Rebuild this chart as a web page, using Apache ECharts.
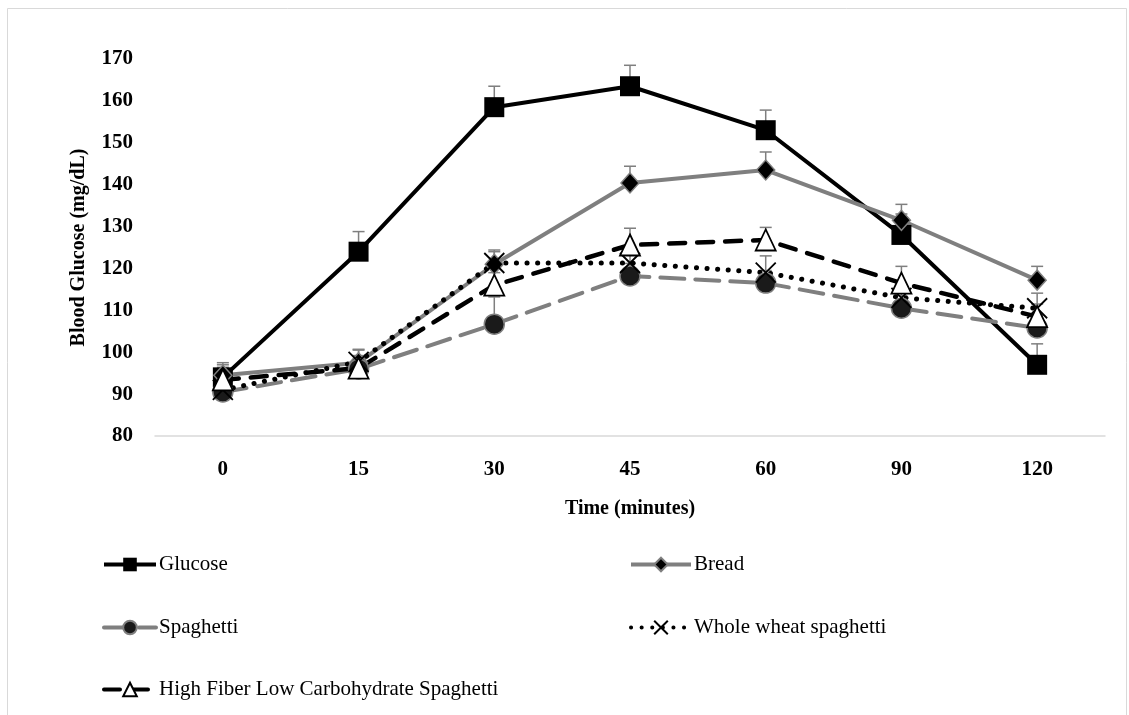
<!DOCTYPE html>
<html>
<head>
<meta charset="utf-8">
<script src="https://cdn.jsdelivr.net/npm/echarts@6/dist/echarts.min.js"></script>
<style>
  html, body { margin: 0; padding: 0; background: #fff; }
  #box { width: 1129px; height: 715px; }
</style>
</head>
<body>
<div id="box"></div>
<script>
// chart data
var times = ['0', '15', '30', '45', '60', '90', '120'];

var glucose = [94, 124, 158.5, 163.5, 153, 128, 97];
var bread = [94.5, 97.5, 121, 140.4, 143.5, 131.5, 117.2];
var spaghetti = [90.5, 96, 106.7, 118.2, 116.5, 110.5, 105.8];
var wholeWheat = [91, 97.7, 121.3, 121.3, 119, 113, 110.5];
var highFiber = [93.4, 96.2, 116, 125.6, 126.8, 116.5, 108.5];

// error (+) per point
var glucoseErr = [3, 4.8, 5, 5, 4.8, 5, 5];
var breadErr = [3, 3, 3, 4, 4.3, 3.8, 3.3];
var spaghettiErr = [2.5, 3, 6.5, 3, 3, 3, 3];
var wholeWheatErr = [2.5, 3, 3.1, 3, 4, 3, 3.6];
var highFiberErr = [3, 3, 3, 4, 3, 4, 3];

var yTicks = { min: 80, max: 170, step: 10 };

var FONT = 'Liberation Serif';
var GREY = '#7f7f7f';

var myChart = echarts.init(document.getElementById('box'));

function errData(vals, errs) {
  return vals.map(function (v, i) {
    return [i, v, v + errs[i]];
  });
}

function errSeries(vals, errs) {
  return {
    type: 'custom',
    z: 1,
    silent: true,
    data: errData(vals, errs),
    renderItem: function (params, api) {
      var p0 = api.coord([api.value(0), api.value(1)]);
      var p1 = api.coord([api.value(0), api.value(2)]);
      var half = 6;
      var st = { stroke: GREY, lineWidth: 1.5 };
      return {
        type: 'group',
        children: [
          { type: 'line', shape: { x1: p0[0], y1: p0[1], x2: p1[0], y2: p1[1] }, style: st },
          { type: 'line', shape: { x1: p1[0] - half, y1: p1[1], x2: p1[0] + half, y2: p1[1] }, style: st }
        ]
      };
    }
  };
}

// one legend block per entry, laid out like the original two columns
function legendItem(name, left, top, width) {
  return {
    left: left,
    top: top,
    padding: 0,
    itemWidth: width,
    itemHeight: 17,
    lineStyle: { width: 4 },
    textStyle: { fontFamily: FONT, fontSize: 21, color: '#000', padding: [0, 0, 0, -2] },
    data: [name]
  };
}

var option = {
  backgroundColor: '#fff',
  animation: false,
  graphic: [{
    type: 'rect',
    shape: { x: 7.5, y: 8.5, width: 1119, height: 720 },
    style: { fill: 'none', stroke: '#d9d9d9', lineWidth: 1 },
    silent: true
  }],
  legend: [
    legendItem('Glucose', 102, 554, 52),
    legendItem('Spaghetti', 102, 617, 52),
    legendItem('High Fiber Low Carbohydrate Spaghetti', 102, 679, 52),
    legendItem('Bread', 629, 554, 60),
    legendItem('Whole wheat spaghetti', 629, 617, 60)
  ],
  grid: {
    left: 155,
    right: 24,
    top: 59,
    bottom: 279
  },
  xAxis: {
    type: 'category',
    data: times,
    name: 'Time (minutes)',
    nameLocation: 'middle',
    nameMoveOverlap: false,
    nameGap: 63,
    nameTextStyle: { fontFamily: FONT, fontSize: 20, fontWeight: 'bold', color: '#000' },
    axisLine: { lineStyle: { color: '#d9d9d9', width: 1.5 } },
    axisTick: { show: false },
    axisLabel: { margin: 23, fontFamily: FONT, fontSize: 21, fontWeight: 'bold', color: '#000' }
  },
  yAxis: {
    type: 'value',
    min: yTicks.min,
    max: yTicks.max,
    interval: yTicks.step,
    name: 'Blood Glucose (mg/dL)',
    nameLocation: 'middle',
    nameMoveOverlap: false,
    nameGap: 66,
    nameTextStyle: { fontFamily: FONT, fontSize: 20, fontWeight: 'bold', color: '#000' },
    axisLine: { show: false },
    axisTick: { show: false },
    splitLine: { show: false },
    axisLabel: { margin: 22, fontFamily: FONT, fontSize: 21, fontWeight: 'bold', color: '#000' }
  },
  series: [
    errSeries(glucose, glucoseErr),
    errSeries(bread, breadErr),
    errSeries(spaghetti, spaghettiErr),
    errSeries(wholeWheat, wholeWheatErr),
    errSeries(highFiber, highFiberErr),
    {
      name: 'Glucose',
      type: 'line',
      z: 2,
      data: glucose,
      symbol: 'rect',
      symbolSize: 20,
      lineStyle: { color: '#000', width: 4 },
      itemStyle: { color: '#000' }
    },
    {
      name: 'Bread',
      type: 'line',
      z: 2,
      data: bread,
      symbol: 'diamond',
      symbolSize: [18, 20],
      lineStyle: { color: GREY, width: 4 },
      itemStyle: { color: '#000', borderColor: GREY, borderWidth: 1.5 }
    },
    {
      name: 'Spaghetti',
      type: 'line',
      z: 2,
      data: spaghetti,
      symbol: 'circle',
      symbolSize: 20,
      lineStyle: { color: GREY, width: 4, type: [24, 11], cap: 'round' },
      itemStyle: { color: '#1a1a1a', borderColor: GREY, borderWidth: 1.5 }
    },
    {
      name: 'Whole wheat spaghetti',
      type: 'line',
      z: 2,
      data: wholeWheat,
      symbol: 'path://M0,0L10,10M10,0L0,10',
      symbolSize: 20,
      lineStyle: { color: '#000', width: 5, type: [0.1, 10.5], cap: 'round' },
      itemStyle: { color: 'rgba(0,0,0,0)', borderColor: '#000', borderWidth: 1.8 }
    },
    {
      name: 'High Fiber Low Carbohydrate Spaghetti',
      type: 'line',
      z: 2,
      data: highFiber,
      symbol: 'triangle',
      symbolSize: [20, 21],
      lineStyle: { color: '#000', width: 4.5, type: [16, 12], cap: 'round' },
      itemStyle: { color: '#fff', borderColor: '#000', borderWidth: 1.8 }
    }
  ]
};

myChart.setOption(option);
</script>
</body>
</html>
